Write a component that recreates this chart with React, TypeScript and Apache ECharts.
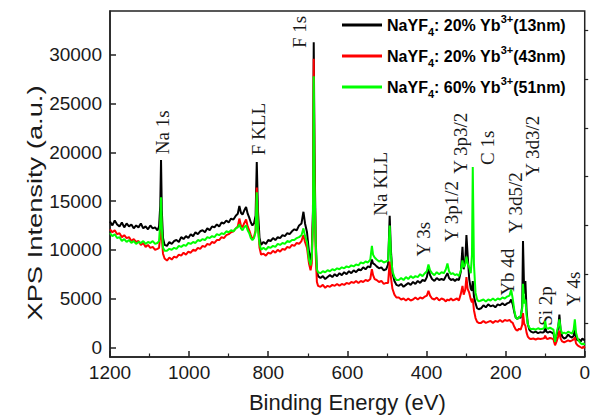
import React, { useEffect, useRef } from "react";
import * as echarts from "echarts";

// Binding energies (eV), shared by the three survey spectra
const energies = [
  1200, 1194, 1188, 1182, 1176, 1170, 1164, 1158, 1152, 1146, 1140, 1134, 1128, 1122, 1116, 1110, 1104, 1098, 1092, 1086, 1080,
  1076, 1073, 1071, 1069, 1066, 1062,
  1056, 1050, 1044, 1038, 1032, 1026, 1020, 1014, 1008, 1002, 996, 990, 984, 978, 972, 966, 960, 954, 948, 942, 936, 930, 924, 918, 912, 906, 900, 894, 888, 882,
  877, 873, 869, 865, 861, 856, 852, 848, 844, 840, 836, 832, 829, 826, 822, 818,
  812, 806, 800, 794, 788, 782, 776, 770, 764, 758, 752, 746, 740, 734, 728, 722, 716,
  711, 707, 702, 697, 693, 690, 687, 685, 683, 680, 677, 674,
  668, 662, 656, 650, 644, 638, 632, 626, 620, 614, 608, 602, 596, 590, 584, 578, 572, 566, 560, 554, 548, 542,
  538, 535, 531, 526, 520, 514, 508, 502, 497, 493, 490, 486, 481, 476,
  470, 464, 458, 452, 446, 440, 434, 428, 422, 416, 410, 404,
  399, 395, 391, 386, 380, 374, 368, 362, 356, 351, 347, 343, 338, 333, 328, 323, 318, 313, 309, 306, 302, 299, 296, 292, 288, 285, 283, 280, 276, 272, 268,
  262, 256, 250, 244, 238, 232, 226, 220, 214, 208, 202, 196,
  190, 186, 182, 178, 174, 170, 166, 162, 158, 156, 153, 150, 147, 144, 140, 136,
  130, 124, 118, 112, 106,
  102, 100, 97, 93, 88, 83, 79, 75, 71, 67, 64, 61, 57, 52, 47, 42, 37, 32, 28, 25, 22, 18, 14, 10, 6, 3, 0,
];

// NaYF4: 20% Yb3+ (13 nm)
const black13nm = [
  12900, 12500, 13000, 12600, 12400, 12800, 12300, 12700, 12400, 12600, 12200, 12500, 12300, 12700, 12200, 12400, 12100, 12500, 12200, 12300, 12000,
  12400, 14500, 19200, 14000, 11200, 10500,
  10400, 10800, 10600, 10900, 11000, 10800, 11300, 11100, 11400, 11200, 11600, 11400, 11800, 11600, 11900, 12000, 11800, 12200, 12000, 12400, 12300, 12600, 12400, 12800, 12700, 13000, 12800, 13200, 13100, 13500,
  13700, 14500, 13800, 13600, 14000, 14400, 13700, 13300, 12800, 12500, 12700, 13500, 19000, 14000, 11200, 10500,
  10800, 10600, 11000, 10900, 11200, 11000, 11300, 11200, 11500, 11400, 11700, 11600, 11900, 12100, 12000, 12500, 12700,
  13900, 12700, 11800, 9800, 8900, 9800, 14000, 31300, 20000, 11000, 7800, 7300,
  7100, 7300, 7000, 7200, 7400, 7200, 7500, 7300, 7600, 7400, 7700, 7500, 7800, 7600, 7900, 7700, 8000, 7900, 8200, 8000, 8300, 8200,
  9000, 8600, 8500, 8300, 8100, 8200, 7900, 8000, 8500, 13500, 10000, 7600, 6800, 6400,
  6300, 6500, 6200, 6400, 6600, 6400, 6700, 6500, 6800, 6600, 6900, 6800,
  7200, 8100, 7400, 7000, 6800, 7100, 6900, 7000, 6900, 7300, 7600, 7100, 6900, 7000, 6800, 7000, 6900, 7800, 10300, 8000, 8800, 11500, 9500, 7000, 6000, 5800, 6800, 5200, 4500, 4000, 3900,
  4000, 4300, 4100, 4400, 4200, 4300, 4100, 4400, 4300, 4500, 4300, 4500,
  4600, 4900, 4400, 3600, 3000, 2900, 3100, 3000, 4200, 10900, 5500, 6800, 3800, 2400, 1800, 1600,
  1500, 1600, 1450, 1550, 1500,
  1600, 2200, 1600, 1500, 1600, 1500, 1400, 600, 1200, 2000, 3350, 1800, 1100, 900, 1000, 1300, 1100, 1000, 1200, 1800, 900, 700, 800, 600, 900, 800, 700,
];

// NaYF4: 20% Yb3+ (43 nm)
const red43nm = [
  12100, 11800, 12000, 11600, 11700, 11300, 11500, 11200, 11300, 10900, 11100, 10800, 10900, 10500, 10700, 10300, 10500, 10200, 10300, 10000, 10100,
  10200, 11500, 13700, 11200, 9600, 9100,
  8900, 9200, 9000, 9300, 9200, 9500, 9400, 9700, 9500, 9800, 9700, 10000, 9900, 10200, 10100, 10400, 10300, 10600, 10500, 10800, 10700, 11000, 11000, 11300, 11200, 11500, 11600, 11800, 11900, 12200,
  12400, 13200, 12500, 12300, 12700, 13100, 12400, 12000, 11500, 11100, 11300, 12000, 16400, 12500, 10200, 9500,
  9600, 9400, 9700, 9600, 9900, 9700, 10000, 9800, 10100, 10000, 10300, 10200, 10500, 10400, 10700, 10600, 10900,
  11500, 10800, 10200, 8600, 7900, 8600, 13000, 29600, 18000, 9500, 6700, 6300,
  6200, 6400, 6100, 6300, 6200, 6400, 6300, 6500, 6300, 6500, 6400, 6600, 6500, 6700, 6600, 6800, 6600, 6800, 6700, 6900, 6800, 7000,
  8000, 7400, 7000, 6900, 6700, 6800, 6500, 6600, 6600, 8800, 7200, 6000, 5400, 5100,
  5100, 4900, 5000, 4800, 5000, 4800, 4900, 5100, 4900, 5100, 5000, 5200,
  5300, 5800, 5300, 5000, 4900, 5100, 4800, 5000, 4900, 4700, 4900, 4800, 5000, 4800, 4900, 5000, 4800, 5500, 6300, 5400, 5900, 7200, 6000, 5600, 4900, 4600, 5000, 3800, 3000, 2600, 2500,
  2500, 2700, 2500, 2600, 2700, 2500, 2700, 2600, 2800, 2600, 2800, 2700,
  2800, 2600, 2500, 2100, 1800, 1700, 1900, 1800, 2300, 3500, 2400, 2200, 1500, 1100, 900, 850,
  900, 800, 900, 850, 900,
  950, 1200, 900, 850, 950, 900, 800, 200, 600, 1100, 1700, 900, 600, 500, 600, 700, 600, 700, 800, 1000, 400, 200, 100, 0, -100, 100, -100,
];

// NaYF4: 60% Yb3+ (51 nm)
const green51nm = [
  11700, 11400, 11600, 11200, 11300, 10900, 11100, 10800, 11000, 10700, 10900, 10600, 10800, 10700, 10900, 10600, 10800, 10700, 10900, 10600, 10700,
  10900, 12800, 15400, 12300, 10200, 9900,
  9900, 10100, 10000, 10200, 10100, 10400, 10300, 10500, 10400, 10700, 10600, 10800, 10700, 11000, 10900, 11100, 11000, 11300, 11200, 11400, 11300, 11600, 11500, 11700, 11600, 11900, 11800, 12000, 11900, 12200,
  12300, 12600, 12200, 12000, 12300, 12500, 12000, 11700, 11200, 11000, 11200, 11800, 15900, 12200, 10600, 10000,
  10200, 10000, 10300, 10200, 10400, 10300, 10600, 10500, 10700, 10600, 10900, 10800, 11000, 11000, 11200, 11300, 11500,
  12200, 11400, 10800, 9000, 8400, 9200, 12500, 27800, 17000, 10500, 8000, 7700,
  7600, 7800, 7700, 7900, 7800, 8000, 7900, 8100, 8000, 8200, 8100, 8300, 8200, 8400, 8300, 8500, 8400, 8700, 8600, 8800, 8700, 9000,
  10400, 9500, 9200, 9000, 8800, 8900, 8700, 8800, 8900, 12500, 9500, 7800, 7200, 6900,
  6900, 7100, 6900, 7200, 7000, 7300, 7100, 7300, 7200, 7500, 7300, 7600,
  7800, 8500, 7900, 7600, 7400, 7700, 7500, 7700, 7600, 8000, 8600, 7800, 7500, 7600, 7400, 7500, 7300, 7900, 8900, 8200, 8500, 9300, 8600, 8200, 7600, 9500, 18500, 8500, 5600, 4900, 4700,
  4800, 4900, 4700, 4900, 4800, 5000, 4800, 5000, 4900, 5100, 5000, 5200,
  5300, 5900, 5000, 3800, 3000, 2900, 3100, 3200, 4000, 6500, 4500, 4900, 3300, 2400, 2000, 1850,
  1900, 1800, 1950, 1850, 1900,
  2000, 2700, 2000, 1900, 2000, 1900, 1800, 550, 1500, 2200, 2860, 1900, 1400, 1500, 1400, 1600, 1500, 1400, 1800, 2860, 1500, 900, 600, 400, 300, 400, 230,
];

const dopings = ["20%", "20%", "60%"];
const sizes = ["13nm", "43nm", "51nm"];
const seriesColors = ["#000000", "#ff0000", "#00ff00"];
const seriesNames = dopings.map((d, i) => `NaYF4: ${d} Yb3+(${sizes[i]})`);

const xTickStep = 200;
const yMajorTicks = [0, 5000, 10000, 15000, 20000, 25000, 30000];
const yMinorTicks = [2500, 7500, 12500, 17500, 22500, 27500, 32500];

// Peak assignments: label text, energy (eV) and intensity where the label starts
const peakNames = ["Na 1s", "F KLL", "F 1s", "Na KLL", "Y 3s", "Y 3p1/2", "Y 3p3/2", "C 1s", "Y 3d5/2", "Y 3d3/2", "Yb 4d", "Si 2p", "Y 4s"];
const peakEnergies = [1067, 825, 722, 516, 407, 337, 314, 247, 176, 133, 194, 98, 28];
const peakLevels = [19800, 19700, 30700, 13500, 9300, 10800, 17800, 18700, 11700, 17500, 5300, 2200, 4200];

const yTitle = "XPS Intensity (a.u.)";

const axisColor = "#222";
const sansFont = 'Arial, "Liberation Sans", sans-serif';
const serifFont = '"Times New Roman", "Liberation Serif", serif';

export default function App() {
  const ref = useRef<HTMLDivElement>(null);

  useEffect(() => {
    if (!ref.current) return;
    const chart = echarts.init(ref.current, undefined, { renderer: "svg" });

    const spectra = [black13nm, red43nm, green51nm];
    const plainNumber = (v: number) => String(v);

    chart.setOption({
      animation: false,
      backgroundColor: "#ffffff",
      grid: {
        left: 110,
        right: 5,
        top: 11,
        bottom: 53,
        show: true,
        borderColor: axisColor,
        borderWidth: 1.5,
      },
      legend: {
        orient: "vertical",
        left: 342,
        top: 13,
        padding: 0,
        itemWidth: 40,
        itemHeight: 3,
        itemGap: 7,
        icon: "rect",
        data: seriesNames,
        formatter: (name: string) => {
          const i = seriesNames.indexOf(name);
          return `{m|NaYF}{sub|4}{m|: ${dopings[i]} Yb}{sup|3+}{m|(${sizes[i]})}`;
        },
        textStyle: {
          color: "#000",
          fontFamily: sansFont,
          fontWeight: "bold",
          fontSize: 16,
          rich: {
            m: { fontFamily: sansFont, fontWeight: "bold", fontSize: 16, lineHeight: 24, color: "#000" },
            sub: { fontFamily: sansFont, fontWeight: "bold", fontSize: 11, lineHeight: 12, verticalAlign: "bottom", color: "#000" },
            sup: { fontFamily: sansFont, fontWeight: "bold", fontSize: 11, lineHeight: 12, verticalAlign: "top", color: "#000" },
          },
        },
      },
      xAxis: {
        type: "value",
        min: 0,
        max: 1200,
        interval: xTickStep,
        inverse: true,
        axisLine: { show: true, onZero: false, lineStyle: { color: axisColor, width: 1.5 } },
        axisTick: { show: true, inside: true, length: 6, lineStyle: { color: axisColor, width: 1.5 } },
        minorTick: { show: true, splitNumber: 2, length: 3.5, lineStyle: { color: axisColor, width: 1.2 } },
        splitLine: { show: false },
        axisLabel: { margin: 6, fontSize: 19, color: "#1a1a1a", fontFamily: sansFont, formatter: plainNumber },
        name: "Binding Energy (eV)",
        nameLocation: "middle",
        nameGap: 34,
        nameTextStyle: { fontSize: 22, color: "#1a1a1a", fontFamily: sansFont },
      },
      yAxis: [
        {
          type: "value",
          min: -1000,
          max: 34500,
          axisLine: { show: true, onZero: false, lineStyle: { color: axisColor, width: 1.5 } },
          axisTick: { show: true, inside: true, length: 6, customValues: yMajorTicks, lineStyle: { color: axisColor, width: 1.5 } },
          axisLabel: { customValues: yMajorTicks, margin: 8, fontSize: 19, color: "#1a1a1a", fontFamily: sansFont, formatter: plainNumber },
          splitLine: { show: false },
        },
        {
          // minor ticks between the labelled values
          type: "value",
          min: -1000,
          max: 34500,
          position: "left",
          axisLine: { show: false },
          axisTick: { show: true, inside: true, length: 3.5, customValues: yMinorTicks, lineStyle: { color: axisColor, width: 1.2 } },
          axisLabel: { show: false },
          splitLine: { show: false },
        },
      ],
      series: spectra.map((values, i) => ({
        name: seriesNames[i],
        type: "line",
        data: energies.map((e, k) => [e, values[k]]),
        showSymbol: false,
        symbol: "none",
        color: seriesColors[i],
        lineStyle: { color: seriesColors[i], width: 2 },
        xAxisIndex: 0,
        yAxisIndex: 0,
      })),
    });

    // Peak assignment labels, placed in data coordinates, reading upwards
    const peakTexts = peakNames.map((text, i) => {
      const [px, py] = chart.convertToPixel({ xAxisIndex: 0, yAxisIndex: 0 }, [peakEnergies[i], peakLevels[i]]) as number[];
      return {
        type: "text",
        x: px,
        y: py,
        rotation: Math.PI / 2,
        style: {
          text,
          fontFamily: serifFont,
          fontSize: 19,
          fill: "#1a1a1a",
          align: "left",
          verticalAlign: "middle",
        },
      };
    });

    // Vertical title of the intensity axis, tall and narrow
    const yTitleText = {
      type: "text",
      x: 35,
      y: 203,
      rotation: Math.PI / 2,
      scaleX: 1.3,
      style: {
        text: yTitle,
        fontFamily: sansFont,
        fontSize: 21,
        fill: "#1a1a1a",
        align: "center",
        verticalAlign: "middle",
      },
    };

    chart.setOption({ graphic: { elements: [...peakTexts, yTitleText] } });

    return () => chart.dispose();
  }, []);

  return (
    <div
      ref={ref}
      style={{ position: "fixed", left: 0, top: 0, width: 593, height: 418, background: "#fff" }}
    />
  );
}
